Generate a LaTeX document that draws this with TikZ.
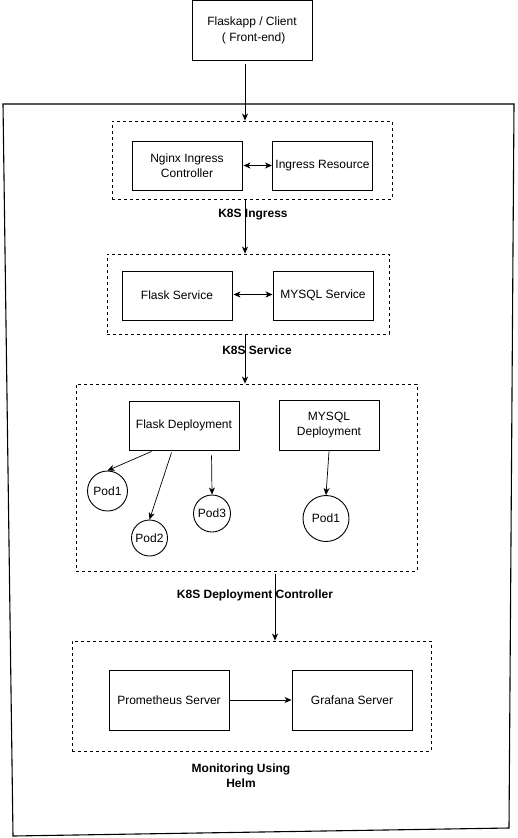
\documentclass[tikz,border=0pt]{standalone}
\usepackage{fontspec}
\setmainfont{Liberation Sans}
\usetikzlibrary{arrows.meta,calc}
\begin{document}
\begin{tikzpicture}[x=1pt,y=-1pt,
  font=\fontsize{12}{15.5}\selectfont,
  box/.style={draw,line width=0.9pt,inner sep=0pt,align=center},
  pod/.style={draw,circle,line width=0.9pt,inner sep=0pt},
  group/.style={draw,line width=0.8pt,dash pattern=on 3pt off 3pt},
  lbl/.style={font=\fontsize{12}{15.5}\selectfont\bfseries,align=center,inner sep=0pt},
  arr/.style={line width=0.9pt,-{Stealth[length=7pt,width=6pt,inset=2pt]}},
  darr/.style={line width=0.9pt,{Stealth[length=7pt,width=6pt,inset=2pt]}-{Stealth[length=7pt,width=6pt,inset=2pt]}}
]
\useasboundingbox (0,0) rectangle (517,838);
\fill[white] (0,0) rectangle (517,838);

% outer frame
\draw[line width=1.1pt] (3,104) -- (514,104) -- (509,828) -- (13,836) -- cycle;

% client
\node[box,minimum width=120pt,minimum height=60pt] (client) at (252,30.5) {Flaskapp / Client\\\ ( Front-end)};

% ingress group
\node[group,minimum width=280pt,minimum height=78pt,inner sep=0pt] (ing) at (252,160) {};
\node[box,minimum width=110pt,minimum height=49pt] (nginx) at (187,165.5) {Nginx Ingress\\Controller};
\node[box,minimum width=100pt,minimum height=49pt] (ires) at (322.5,165.5) {Ingress Resource};
\node[lbl] (ingl) at (253,215) {K8S Ingress};

% service group
\node[group,minimum width=282pt,minimum height=80pt,inner sep=0pt] (svc) at (248,294) {};
\node[box,minimum width=110pt,minimum height=49pt] (fsvc) at (177,295.5) {Flask Service};
\node[box,minimum width=100pt,minimum height=49pt] (msvc) at (323,295.5) {MYSQL Service};
\node[lbl] (svcl) at (257,350) {K8S Service};

% deployment group
\node[group,minimum width=341pt,minimum height=187pt,inner sep=0pt] (dep) at (246.5,477.5) {};
\node[box,minimum width=110pt,minimum height=49pt] (fdep) at (184,425.5) {Flask Deployment};
\node[box,minimum width=100pt,minimum height=50pt] (mdep) at (329,425) {MYSQL\\Deployment};
\node[pod,minimum size=40pt] (p1) at (107.5,491) {Pod1};
\node[pod,minimum size=36pt] (p2) at (149.5,538) {Pod2};
\node[pod,minimum size=37pt] (p3) at (212,513.5) {Pod3};
\node[pod,minimum size=46pt] (mp1) at (326,518.5) {Pod1};
\node[lbl] (depl) at (255,595) {K8S Deployment Controller};

% monitoring group
\node[group,minimum width=359pt,minimum height=110pt,inner sep=0pt] (mon) at (251.5,696) {};
\node[box,minimum width=120pt,minimum height=60pt] (prom) at (169,700) {Prometheus Server};
\node[box,minimum width=120pt,minimum height=60pt] (graf) at (352,700) {Grafana Server};
\node[lbl] (monl) at (241,775.5) {Monitoring Using\\Helm};

% connectors
\coordinate (c1) at (245,64);
\draw[arr] (c1) -- (c1 |- ing.north);
\coordinate (c2) at (245,200);
\draw[arr] (c2) -- (c2 |- svc.north);
\coordinate (c3) at (245,335);
\draw[arr] (c3) -- (c3 |- dep.north);
\coordinate (c4) at (275,574);
\draw[arr] (c4) -- (c4 |- mon.north);

\draw[darr] ($(nginx.east)+(1,0)$) -- (ires.west);
\draw[darr] ($(fsvc.east)+(1,-1)$) -- ($(msvc.west)+(0,-1)$);
\draw[arr] (prom.east) -- (graf.west);

\draw[arr,line width=0.7pt] ($(fdep.south west)+(23,1)$) -- (p1.north);
\draw[arr,line width=0.7pt] ($(fdep.south west)+(43,2)$) -- (p2.north);
\draw[arr,line width=0.7pt] ($(fdep.south west)+(83,5)$) -- (p3.north);
\draw[arr,line width=0.7pt] ($(mdep.south)+(0,1)$) -- (mp1.north);
\end{tikzpicture}
\end{document}
